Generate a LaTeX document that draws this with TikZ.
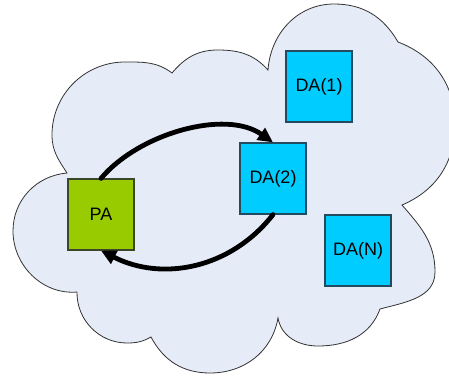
\documentclass[tikz,border=0pt]{standalone}
\usepackage{fontspec}
\setmainfont{Liberation Sans}
\usetikzlibrary{arrows.meta}
\definecolor{cloudfill}{RGB}{230,236,247}
\definecolor{cloudline}{RGB}{50,50,50}
\definecolor{dafill}{RGB}{0,204,255}
\definecolor{daline}{RGB}{35,75,95}
\definecolor{pafill}{RGB}{153,204,0}
\definecolor{paline}{RGB}{60,70,40}
\begin{document}
\begin{tikzpicture}[x=1pt,y=1pt,
  cloudshape/.style={draw=cloudline, line width=0.8pt, fill=cloudfill},
  box/.style={draw, line width=1.2pt, minimum width=66pt, minimum height=71pt,
    inner sep=0pt, font=\fontsize{18}{20}\selectfont},
  dabox/.style={box, fill=dafill, draw=daline},
  pabox/.style={box, fill=pafill, draw=paline},
  flow/.style={line width=4.8pt, line cap=round, -{Triangle[length=15pt,width=14pt]}}]
\useasboundingbox (0,0) rectangle (449,376);
\clip (0,0) rectangle (449,376);
\coordinate (c1) at (67,203);
\coordinate (c2) at (77,84);
\coordinate (c3) at (151,39);
\coordinate (c4) at (278,58);
\coordinate (c5) at (380,67);
\coordinate (c6) at (402,171);
\coordinate (c7) at (398,334);
\coordinate (c8) at (268,306);
\coordinate (c9) at (172,303);
\draw[cloudshape] (c1) to[out=185,in=90] (13,145) to[out=270,in=185] (c2)
  to[out=269,in=180] (127,33) to[out=0,in=209] (c3)
  to[out=298,in=180] (210,3) to[out=0,in=260] (c4)
  to[out=280,in=180] (318,30) to[out=0,in=250] (c5)
  to[out=15,in=270] (435,104) to[out=90,in=311] (c6)
  to[out=23,in=270] (455,252) to[out=90,in=339] (c7)
  to[out=120,in=0] (334,372) to[out=180,in=86] (c8)
  to[out=132,in=0] (218,326) to[out=180,in=50] (c9)
  to[out=143,in=0] (125,314) to[out=180,in=90] (52,241) to[out=270,in=123] (c1) -- cycle;
\node[pabox] (PA) at (101,161.5) {PA};
\node[dabox] (DA2) at (273,197.5) {DA(2)};
\node[dabox] (DA1) at (319,289.5) {DA(1)};
\node[dabox] (DAN) at (358,125.5) {DA(N)};
\draw[flow] (PA.north) to[out=50,in=145,looseness=0.85] (DA2.north);
\draw[flow] (DA2.south) to[out=232,in=333] (PA.south);
\end{tikzpicture}
\end{document}
